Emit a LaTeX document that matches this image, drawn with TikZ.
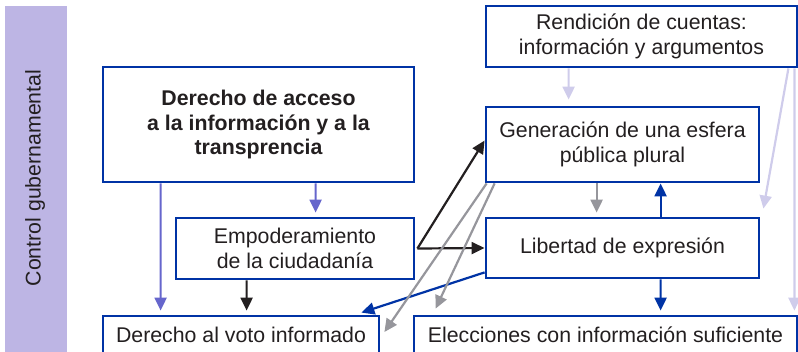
\documentclass[tikz,border=0pt]{standalone}
\usepackage{fontspec}
\setmainfont{Liberation Sans}
\usetikzlibrary{arrows.meta}
\definecolor{barcol}{RGB}{189,181,228}
\definecolor{boxblue}{RGB}{0,51,165}
\definecolor{purp}{RGB}{102,102,204}
\definecolor{lightc}{RGB}{207,204,235}
\definecolor{grayc}{RGB}{150,150,156}
\definecolor{blk}{RGB}{35,31,32}
\tikzset{
  box/.style={draw=boxblue, line width=2.8bp, fill=white, inner sep=0pt, align=center,
    text=blk, font=\fontsize{21.3bp}{24.3bp}\selectfont},
  arr/.style={line width=2.2bp, -{Triangle[length=13bp,width=12bp]}},
  gap/.style={shorten >=4bp},
}
\begin{document}
\begin{tikzpicture}[x=1bp,y=-1bp]
\useasboundingbox (0,0) rectangle (798,351);
\clip (0,0) rectangle (798,351);
\fill[barcol] (5,6) rectangle (67,355);
\node[rotate=90, text=blk, font=\fontsize{21.3bp}{24.3bp}\selectfont] (ctrl) at (35,178) {Control gubernamental};

\node[box, minimum width=311bp, minimum height=115bp] (acc) at (258.5,124.5)
  {\bfseries Derecho de acceso\\\bfseries a la información y a la\\\bfseries transprencia};
\node[box, minimum width=238bp, minimum height=61bp] (emp) at (295,248.5)
  {Empoderamiento\\de la ciudadanía};
\node[box, minimum width=276bp, minimum height=38bp] (voto) at (241,335)
  {Derecho al voto informado};
\node[box, minimum width=311bp, minimum height=61bp] (rend) at (641.5,36.5)
  {Rendición de cuentas:\\información y argumentos};
\node[box, minimum width=273bp, minimum height=75bp] (gen) at (622.5,144.5)
  {Generación de una esfera\\pública plural};
\node[box, minimum width=273bp, minimum height=60bp] (lib) at (622.5,248)
  {Libertad de expresión};
\node[box, minimum width=383bp, minimum height=38bp] (elec) at (605.5,335)
  {Elecciones con información suficiente};

% purple arrows
\draw[arr, gap, purp] ([xshift=59bp]acc.south west) -- ([xshift=59bp]voto.north west);
\draw[arr, gap, purp] ([xshift=214bp]acc.south west) -- ([xshift=141bp]emp.north west);
% black arrows
\draw[arr, gap, blk] ([xshift=72bp]emp.south west) -- ([xshift=145bp]voto.north west);
\draw[arr, blk] ([xshift=2bp]emp.east) -- ([yshift=4bp]gen.west);
\draw[arr, blk] ([xshift=2bp]emp.east) -- (lib.west);
% blue arrows
\draw[arr, boxblue] ([yshift=7bp]lib.south west) -- ([xshift=-19bp,yshift=2bp]voto.north east);
\draw[arr, boxblue] ([xshift=176bp]lib.north west) -- ([xshift=176bp]gen.south west);
\draw[arr, gap, boxblue] ([xshift=176bp]lib.south west) -- ([xshift=248bp]elec.north west);
% gray arrows
\draw[arr, grayc] ([xshift=2bp]gen.south west) -- ([xshift=4bp,yshift=3bp]voto.east);
\draw[arr, grayc] ([xshift=10bp]gen.south west) -- ([xshift=23bp,yshift=6bp]elec.north west);
\draw[arr, gap, grayc] ([xshift=112bp]gen.south west) -- ([xshift=112bp]lib.north west);
% light arrows
\draw[arr, lightc, shorten >=6bp] ([xshift=84bp]rend.south west) -- ([xshift=84bp]gen.north west);
\draw[arr, lightc] ([xshift=-10bp]rend.south east) -- ([xshift=3bp,yshift=8bp]lib.north east);
\draw[arr, gap, lightc] ([xshift=-4bp]rend.south east) -- ([xshift=-4bp]elec.north east);
\end{tikzpicture}
\end{document}
